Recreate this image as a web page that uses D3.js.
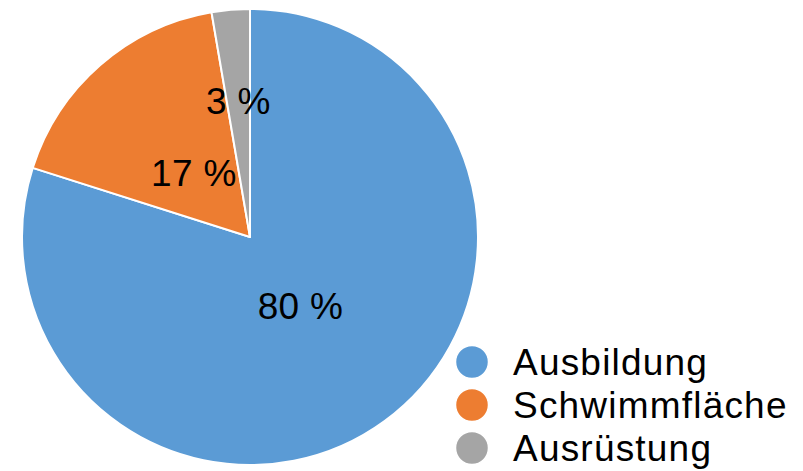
<!DOCTYPE html>
<html>
<head>
<meta charset="utf-8">
<script src="https://cdn.jsdelivr.net/npm/d3@7"></script>
<style>
  body { margin: 0; background: #fff; }
  text { font-family: "Liberation Sans", Arial, sans-serif; fill: #000; }
</style>
</head>
<body>
<script>
// chart data
var categories = ["Ausbildung", "Schwimmfläche", "Ausrüstung"];
var values = [79.9, 17.4, 2.7];
var labels = ["80 %", "17 %", "3 %"];
var colors = ["#5B9BD5", "#ED7D31", "#A5A5A5"];

var width = 803, height = 471;
var cx = 250, cy = 237, radius = 228;

var svg = d3.select("body").append("svg")
  .attr("width", width)
  .attr("height", height);

var pie = d3.pie().sort(null).value(function(d) { return d; });
var arcs = pie(values);

var arc = d3.arc().innerRadius(0).outerRadius(radius);

var g = svg.append("g")
  .attr("transform", "translate(" + cx + "," + cy + ")");

// slices
g.selectAll("path")
  .data(arcs)
  .enter()
  .append("path")
  .attr("d", arc)
  .attr("fill", function(d, i) { return colors[i]; })
  .attr("stroke", "#fff")
  .attr("stroke-width", 2)
  .attr("stroke-linejoin", "round");

// slice labels, small slices pushed further out
g.selectAll(".slice-label")
  .data(arcs)
  .enter()
  .append("text")
  .attr("class", "slice-label")
  .attr("transform", function(d) {
    var share = (d.endAngle - d.startAngle) / (2 * Math.PI);
    var r = share < 0.05 ? radius * 0.6 : radius * 0.375;
    var c = d3.arc().innerRadius(r).outerRadius(r).centroid(d);
    return "translate(" + c[0] + "," + c[1] + ")";
  })
  .attr("text-anchor", "middle")
  .attr("dy", "0.36em")
  .style("font-size", "37px")
  .style("letter-spacing", "0.3px")
  .text(function(d, i) { return labels[i]; });

// legend
var legend = svg.selectAll(".legend")
  .data(categories)
  .enter()
  .append("g")
  .attr("class", "legend")
  .attr("transform", function(d, i) {
    return "translate(472," + (362 + i * 43) + ")";
  });

legend.append("circle")
  .attr("r", 16.5)
  .attr("fill", function(d, i) { return colors[i]; })
  .attr("stroke", "#fff")
  .attr("stroke-width", 1.5);

legend.append("text")
  .attr("x", 41)
  .attr("dy", "0.36em")
  .style("font-size", "37px")
  .style("letter-spacing", "1.2px")
  .text(function(d) { return d; });
</script>
</body>
</html>
